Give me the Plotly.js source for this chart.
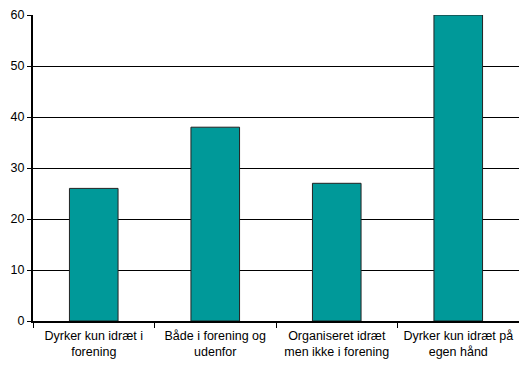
<!DOCTYPE html>
<html><head><meta charset="utf-8">
<script src="https://cdn.plot.ly/plotly-3.0.1.min.js"></script>
<style>html,body{margin:0;padding:0;background:#fff;}</style>
</head><body><div id="chart" style="width:519px;height:367px;"></div>
<script>
const categories = ["Dyrker kun idræt i<br>forening", "Både i forening og<br>udenfor", "Organiseret idræt<br>men ikke i forening", "Dyrker kun idræt på<br>egen hånd"];
const values = [26, 38, 27, 60];
const yTicks = [0, 10, 20, 30, 40, 50, 60];

Plotly.newPlot("chart", [{
  type: "bar",
  x: categories,
  y: values,
  width: 0.4,
  marker: {color: "#009999", line: {color: "#222", width: 1}},
  hoverinfo: "none"
}], {
  width: 519, height: 367,
  margin: {l: 33, r: 0, t: 15, b: 46},
  paper_bgcolor: "#fff", plot_bgcolor: "#fff",
  showlegend: false,
  font: {family: "Liberation Sans, Arial, sans-serif", size: 12.5, color: "#000"},
  xaxis: {
    type: "category",
    showgrid: false,
    showline: true, linecolor: "#000", linewidth: 2,
    ticks: "outside", tickson: "boundaries", ticklen: 5, tickcolor: "#000", tickwidth: 1,
    tickfont: {size: 12.5},
    ticklabelstandoff: 2,
    fixedrange: true
  },
  yaxis: {
    range: [0, 60],
    tickvals: yTicks,
    showgrid: true, gridcolor: "#000", gridwidth: 1,
    showline: true, linecolor: "#000", linewidth: 2,
    ticks: "outside", ticklen: 4, tickcolor: "#000",
    zeroline: false,
    tickfont: {size: 12.5},
    fixedrange: true
  },
  bargap: 0.6
}, {displayModeBar: false, staticPlot: true});
</script></body></html>
